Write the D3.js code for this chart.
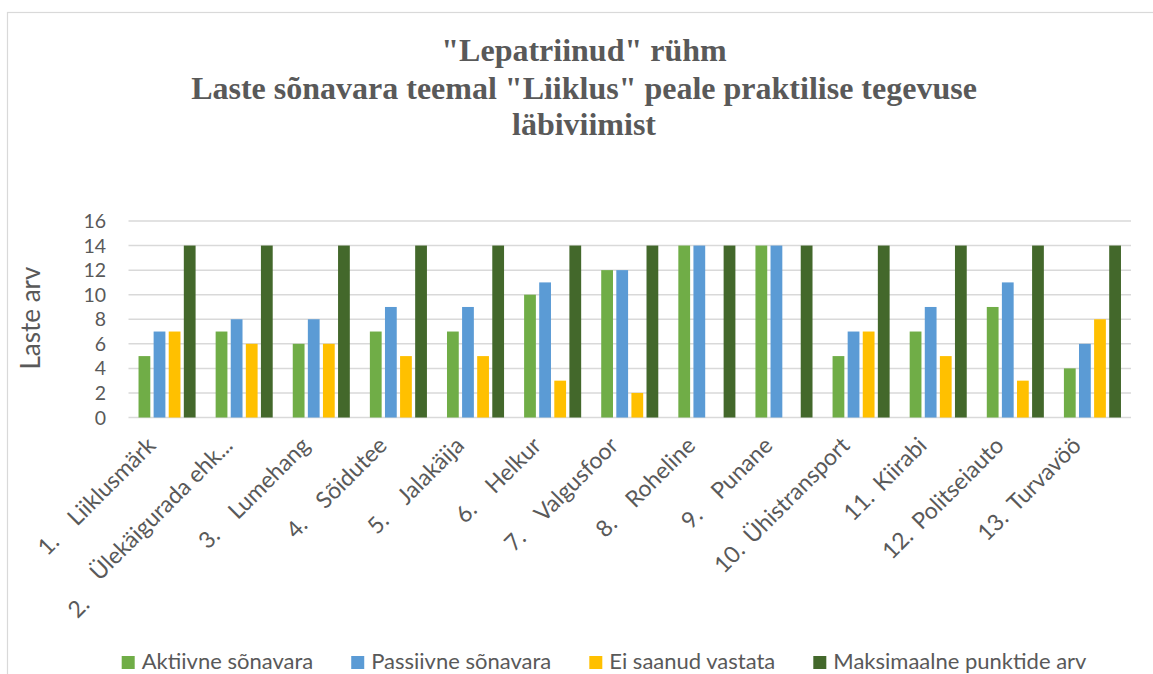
<!DOCTYPE html>
<html><head><meta charset="utf-8">
<script src="https://cdn.jsdelivr.net/npm/d3@7"></script>
<style>
body{margin:0;background:#fff}
svg{display:block}
text{font-family:Lato, "Noto Sans", sans-serif; fill:#595959}
</style>
</head><body><svg id="c" width="1153" height="674"></svg>
<script>
const categoryNumbers = ["1.","2.","3.","4.","5.","6.","7.","8.","9.","10.","11.","12.","13."];
const categoryNames = ["Liiklusmärk","Ülekäigurada ehk...","Lumehang","Sõidutee","Jalakäija","Helkur","Valgusfoor","Roheline","Punane","Ühistransport","Kiirabi","Politseiauto","Turvavöö"];
const seriesNames = ["Aktiivne sõnavara","Passiivne sõnavara","Ei saanud vastata","Maksimaalne punktide arv"];
const aktiivne   = [5,7,6,7,7,10,12,14,14,5,7,9,4];
const passiivne  = [7,8,8,9,9,11,12,14,14,7,9,11,6];
const eiSaanud   = [7,6,6,5,5,3,2,0,0,7,5,3,8];
const maksimaalne= [14,14,14,14,14,14,14,14,14,14,14,14,14];
const yTicks = [0,2,4,6,8,10,12,14,16];
const titleLines = ['"Lepatriinud" rühm','Laste sõnavara teemal "Liiklus" peale praktilise tegevuse','läbiviimist'];
const yAxisTitle = "Laste arv";
const colors = ["#70ad47","#5b9bd5","#ffc000","#43682b"];

const seriesValues = [aktiivne, passiivne, eiSaanud, maksimaalne];
const svg = d3.select("#c");

// chart border
svg.append("rect").attr("x",7.5).attr("y",12.5).attr("width",1200).attr("height",700)
  .attr("fill","#fff").attr("stroke","#d9d9d9").attr("stroke-width",1.2);

const plotL = 128.5, plotR = 1131, plotT = 221, plotB = 417.5;
const x0 = d3.scaleBand().domain(d3.range(categoryNames.length)).range([plotL, plotR]).padding(0);
const bw = x0.bandwidth();
const x1 = d3.scaleBand().domain(d3.range(seriesNames.length)).range([bw*0.13, bw*0.87]).paddingInner(0.22).paddingOuter(0);
const y = d3.scaleLinear().domain([0,16]).range([plotB, plotT]);

// gridlines
svg.append("g").selectAll("line").data(yTicks).join("line")
  .attr("x1",plotL).attr("x2",plotR)
  .attr("y1",d=>y(d)).attr("y2",d=>y(d))
  .attr("stroke","#d9d9d9").attr("stroke-width",1.5);

// y tick labels
svg.append("g").selectAll("text").data(yTicks).join("text")
  .attr("x",106).attr("y",d=>y(d)).attr("dy","0.36em")
  .attr("text-anchor","end").attr("font-size",19.5).text(d=>d);

// y axis title
svg.append("text").attr("transform","translate(40,318) rotate(-90)")
  .attr("text-anchor","middle").attr("font-size",26).text(yAxisTitle);

// bars
const groups = svg.append("g").selectAll("g").data(d3.range(categoryNames.length)).join("g")
  .attr("transform",i=>`translate(${x0(i)},0)`);
groups.selectAll("rect").data(i=>seriesValues.map((s,k)=>({k, v:s[i]}))).join("rect")
  .attr("x",d=>x1(d.k)).attr("width",x1.bandwidth())
  .attr("y",d=>y(d.v)).attr("height",d=>y(0)-y(d.v))
  .attr("fill",d=>colors[d.k]);

// x labels
const T = 42, fsL = 23;
categoryNames.forEach((name,i)=>{
  const cx = x0(i) + bw/2;
  const g = svg.append("g").attr("transform",`translate(${cx-10},447) rotate(-45)`);
  const w = g.append("text").attr("text-anchor","end").attr("font-size",fsL).text(name);
  const len = w.node().getComputedTextLength();
  const wrapped = name.endsWith("...");
  g.append("text").attr("x",-len-T).attr("y",wrapped?11:0).attr("font-size",fsL).text(categoryNumbers[i]);
});

// title
svg.append("g").selectAll("text").data(titleLines).join("text")
  .attr("x",584).attr("y",(d,i)=>[61,98.5,135][i])
  .attr("text-anchor","middle")
  .style("font-family",'"Liberation Serif","Times New Roman",serif')
  .style("font-weight","bold").attr("font-size",32).text(d=>d);

// legend
let lx = 121.7;
const leg = svg.append("g");
seriesNames.forEach((n,k)=>{
  leg.append("rect").attr("x",lx).attr("y",656).attr("width",13).attr("height",13).attr("fill",colors[k]);
  const t = leg.append("text").attr("x",lx+20).attr("y",669).attr("font-size",22).text(n);
  lx = lx + 20 + t.node().getComputedTextLength() + 38;
});
</script>
</body></html>
